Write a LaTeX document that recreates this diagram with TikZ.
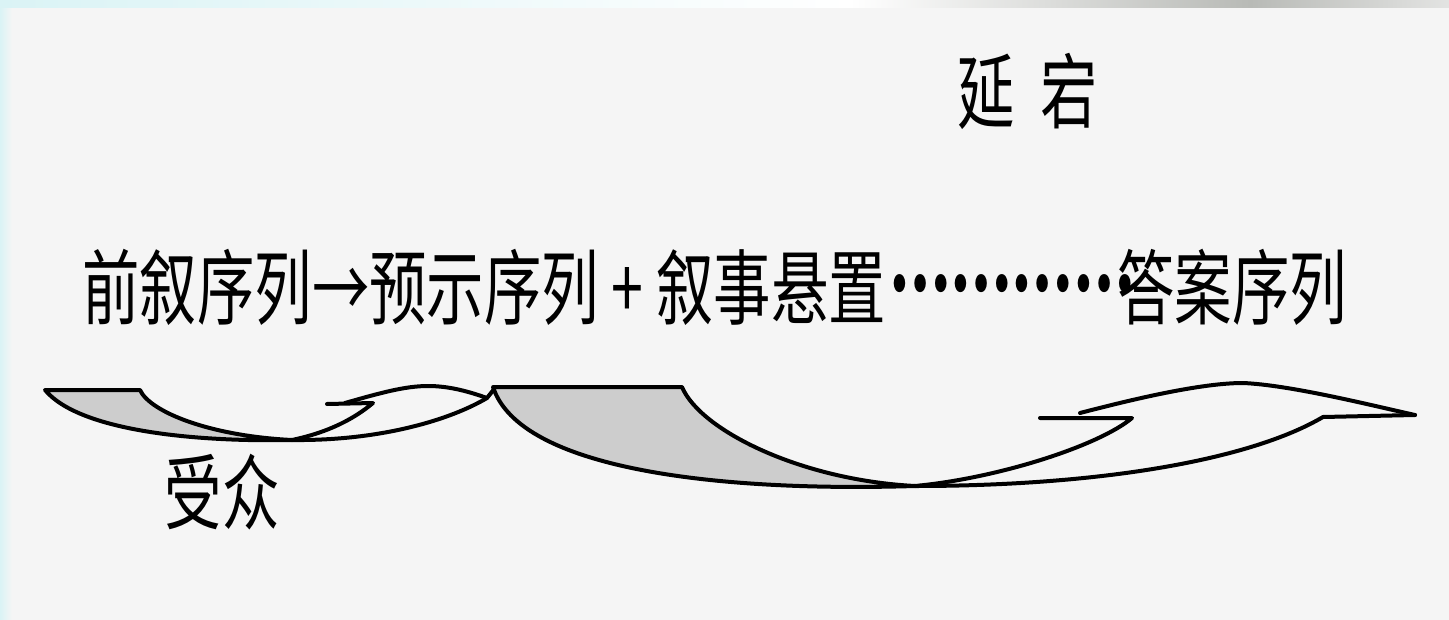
\documentclass[tikz,border=0pt]{standalone}
\usepackage{fontspec}
\newfontfamily\cjk{Noto Sans CJK SC}
\definecolor{bgpaper}{HTML}{F5F5F5}
\definecolor{bgcyan}{HTML}{DAF3F5}
\definecolor{shadegray}{HTML}{CDCDCD}
\definecolor{topgray}{HTML}{B8BAB6}
\newcommand{\narrowtext}[1]{\scalebox{0.7}[1]{#1}}
\begin{document}
\begin{tikzpicture}[x=0.5pt,y=-0.5pt,
  lbl/.style={font=\cjk\fontsize{41}{41}\selectfont, inner sep=0pt, text=black},
  outline/.style={line width=2pt, line join=round, line cap=round, draw=black},
  sliver/.style={outline, fill=shadegray}]
\useasboundingbox (0,0) rectangle (1449,620);
\fill[bgpaper] (0,0) rectangle (1449,620);
\shade[left color=bgcyan, right color=bgpaper] (0,0) rectangle (12,620);
\shade[left color=bgcyan, right color=white] (0,0) rectangle (850,8);
\shade[left color=white, right color=topgray] (850,0) rectangle (1250,8);
\shade[left color=topgray, right color=bgpaper!70!topgray] (1250,0) rectangle (1449,8);

\node[lbl, anchor=base west] (pre) at (82,318) {\narrowtext{前叙序列→预示序列 + 叙事悬置}};
\node[lbl, anchor=base west] (dots) at (889,318) {\scalebox{0.665}[1]{\raisebox{13.5pt}{\bfseries ⋯⋯⋯⋯}}};
\node[lbl, anchor=base west] (ans) at (1117,318) {\narrowtext{答案序列}};
\node[lbl, anchor=base] (delay) at (1028,123) {\narrowtext{延\hspace{0.45em}宕}};
\node[lbl, anchor=base] (aud) at (222,523) {\narrowtext{受众}};

\coordinate (c1) at (292,440);
\coordinate (j1) at (487,398);
\coordinate (c2) at (915,486);
\coordinate (tip) at (1415,415);

\draw[sliver] (45,390) -- (140,390) .. controls (150,412) and (210,436) .. (c1) .. controls (200,442) and (80,432) .. (45,390) -- cycle;
\draw[outline] (c1) .. controls (380,441) and (450,420) .. (j1);
\draw[outline] (c1) .. controls (330,432) and (355,418) .. (373,403) -- (327,404);
\draw[outline] (345,403) .. controls (380,393) and (405,386) .. (428,386) .. controls (450,386) and (470,392) .. (j1) -- (495,388);
\draw[sliver] (493,387) -- (682,387) .. controls (700,430) and (800,480) .. (c2) .. controls (720,492) and (520,470) .. (493,387) -- cycle;
\draw[outline] (c2) .. controls (1100,486) and (1250,460) .. (1323,417) -- (tip);
\draw[outline] (c2) .. controls (1000,478) and (1100,445) .. (1132,418) -- (1040,418);
\draw[outline] (1080,413) .. controls (1130,400) and (1200,383) .. (1243,383) .. controls (1290,385) and (1370,405) .. (tip);
\end{tikzpicture}
\end{document}
